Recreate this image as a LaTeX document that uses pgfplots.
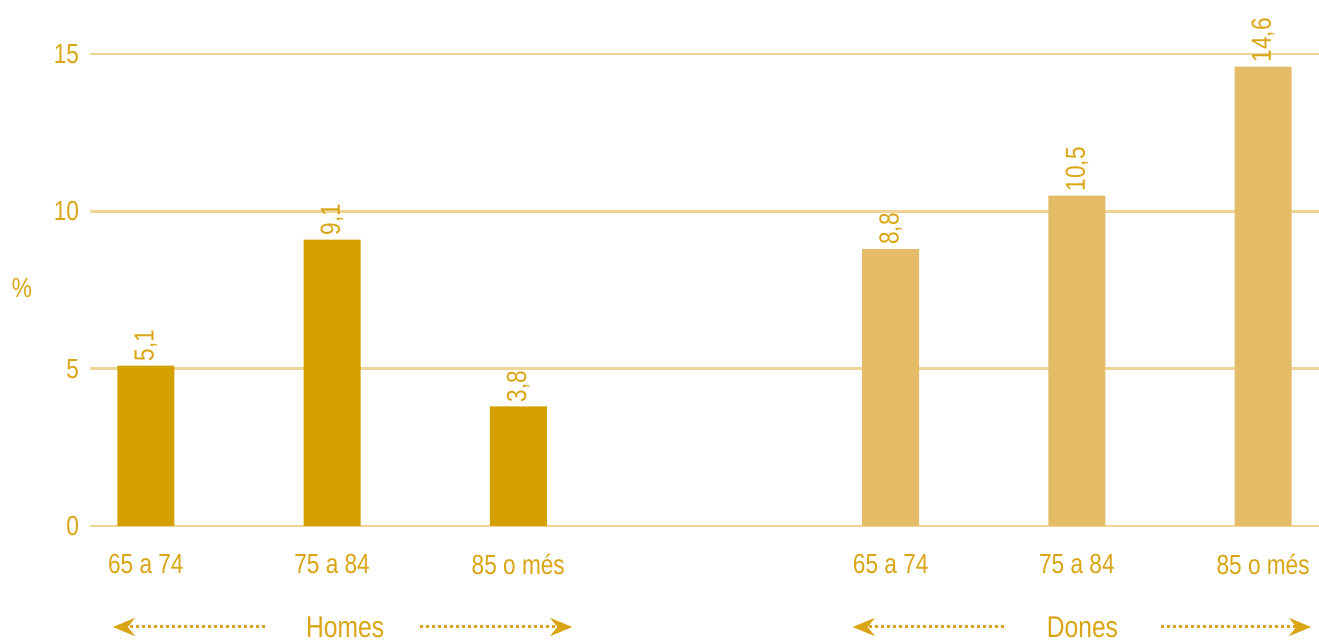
\documentclass[border=0pt]{standalone}
\usepackage{fontspec}
\setmainfont[FakeStretch=0.82]{Liberation Sans}
\usepackage{pgfplots}
\pgfplotsset{compat=1.18}
\usetikzlibrary{arrows.meta}
\definecolor{darkgold}{RGB}{212,160,0}
\definecolor{lightgold}{RGB}{228,188,104}
\definecolor{gridgold}{RGB}{240,212,150}
\definecolor{textgold}{RGB}{218,165,20}
\begin{document}
\begin{tikzpicture}[font=\fontsize{13.8}{15}\selectfont]
\useasboundingbox (-45pt,-58pt) rectangle (614.5pt,263pt);
\begin{axis}[
  at={(0,0)}, anchor=south west, scale only axis,
  width=614.5pt, height=236pt,
  xmin=-0.3, xmax=6.3, ymin=0, ymax=15, clip=false,
  axis line style={draw=none}, major tick length=0pt,
  ytick={0,5,10,15}, ymajorgrids, grid style={gridgold, line width=1.3pt},
  xtick={0,1,2,4,5,6},
  xticklabels={65 a 74,75 a 84,85 o més,65 a 74,75 a 84,85 o més},
  ticklabel style={text=textgold},
  yticklabel style={xshift=-2pt},
  xticklabel style={yshift=-10.5pt},
  /pgf/number format/assume math mode=true,
  ybar, bar width=28.5pt, bar shift=0pt,
  nodes near coords,
  nodes near coords style={rotate=90, anchor=west, inner sep=2pt, text=textgold,
    /pgf/number format/.cd, use comma, fixed, fixed zerofill, precision=1, assume math mode=true},
]
\addplot[fill=darkgold, draw=none] coordinates {(0,5.1) (1,9.1) (2,3.8)};
\addplot[fill=lightgold, draw=none] coordinates {(4,8.8) (5,10.5) (6,14.6)};

\node[text=textgold, font=\fontsize{15}{16}\selectfont] at ([yshift=-50.5pt]axis cs:1.07,0) {Homes};
\node[text=textgold, font=\fontsize{15}{16}\selectfont] at ([yshift=-50.5pt]axis cs:5.03,0) {Dones};
\tikzset{grparrow/.style={textgold, line width=1.5pt, dash pattern=on 1.3pt off 1.7pt, -{Stealth[length=11pt,width=9pt]}}}
\draw[grparrow] ([yshift=-50.5pt]axis cs:0.64,0) -- ([yshift=-50.5pt]axis cs:-0.177,0);
\draw[grparrow] ([yshift=-50.5pt]axis cs:1.473,0) -- ([yshift=-50.5pt]axis cs:2.29,0);
\draw[grparrow] ([yshift=-50.5pt]axis cs:4.607,0) -- ([yshift=-50.5pt]axis cs:3.796,0);
\draw[grparrow] ([yshift=-50.5pt]axis cs:5.452,0) -- ([yshift=-50.5pt]axis cs:6.258,0);
\node[text=textgold] at ([xshift=-34pt,yshift=119pt]axis cs:-0.3,0) {\%};
\end{axis}
\end{tikzpicture}
\end{document}
